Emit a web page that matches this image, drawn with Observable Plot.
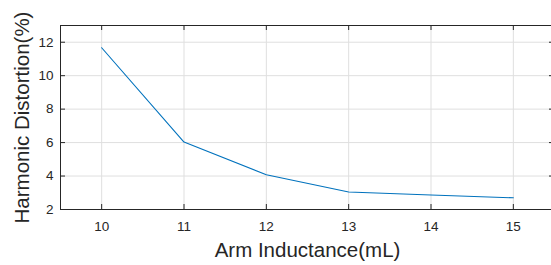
<!DOCTYPE html>
<html><head><meta charset="utf-8">
<script src="https://cdn.jsdelivr.net/npm/d3@7"></script>
<script src="https://cdn.jsdelivr.net/npm/@observablehq/plot@0.6"></script>
<style>
html,body{margin:0;padding:0;background:#fff;}
svg{display:block;}
</style>
</head><body><div id="chart"></div>
<script>
const inductance = [10, 11, 12, 13, 14, 15];
const distortion = [11.67, 6.03, 4.08, 3.05, 2.87, 2.70];
const xTicks = [10, 11, 12, 13, 14, 15];
const yTicks = [2, 4, 6, 8, 10, 12];
const xLabel = "Arm Inductance(mL)";
const yLabel = "Harmonic Distortion(%)";

const data = inductance.map((x, i) => ({x, y: distortion[i]}));
const W = 551, H = 265, mT = 25, mB = 56, mL = 60, mR = -3;
const ph = H - mT - mB, pw = W - mL - mR;
const axisColor = "#262626";
const TL = 5;

const chart = Plot.plot({
  width: W, height: H,
  marginTop: mT, marginBottom: mB, marginLeft: mL, marginRight: mR,
  style: {fontFamily: "'Liberation Sans', Arial, sans-serif", fontSize: "13px", color: axisColor, background: "#fff"},
  x: {domain: [9.5, 15.5], ticks: xTicks},
  y: {domain: [2, 13], ticks: yTicks},
  marks: [
    Plot.gridX(xTicks, {stroke: "#dfdfdf", strokeOpacity: 1}),
    Plot.gridY(yTicks, {stroke: "#dfdfdf", strokeOpacity: 1}),
    Plot.line(data, {x: "x", y: "y", stroke: "#0072BD", strokeWidth: 1.1}),
    Plot.frame({stroke: axisColor, strokeWidth: 1}),
    Plot.tickX(xTicks, {x: d => d, insetTop: ph - TL, stroke: axisColor}),
    Plot.tickX(xTicks, {x: d => d, insetBottom: ph - TL, stroke: axisColor}),
    Plot.tickY(yTicks, {y: d => d, insetRight: pw - TL, stroke: axisColor}),
    Plot.tickY(yTicks, {y: d => d, insetLeft: pw - TL, stroke: axisColor}),
    Plot.axisX(xTicks, {tickSize: 0, tickPadding: 12, fontSize: 13.5, fill: axisColor, label: null}),
    Plot.axisY(yTicks, {tickSize: 0, tickPadding: 7, fontSize: 13.5, fill: axisColor, label: null}),
    Plot.text([xLabel], {frameAnchor: "bottom", dy: 47, fontSize: 20.5, fill: axisColor, text: d => d}),
    Plot.text([yLabel], {frameAnchor: "left", textAnchor: "middle", dx: -38, rotate: -90, fontSize: 20.5, fill: axisColor, text: d => d})
  ]
});
document.getElementById("chart").appendChild(chart);
</script>
</body></html>
